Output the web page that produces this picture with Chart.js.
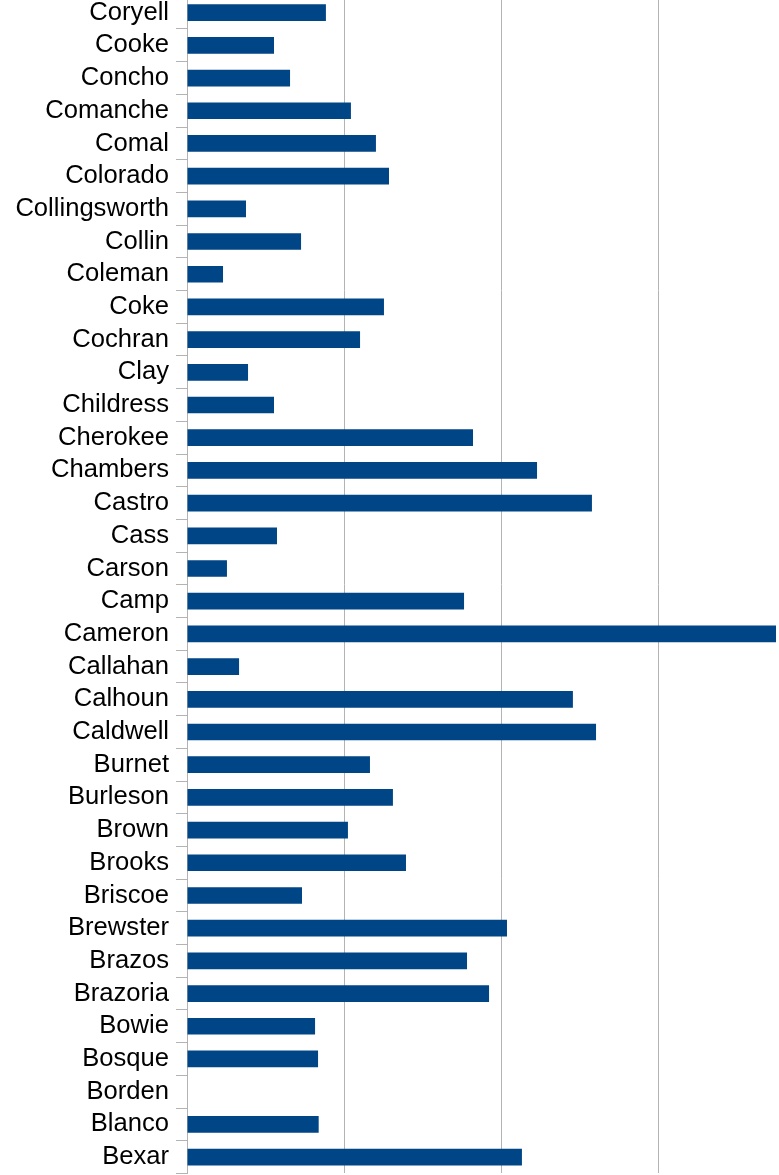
<!DOCTYPE html>
<html>
<head>
<meta charset="utf-8">
<script src="https://cdn.jsdelivr.net/npm/chart.js@4/dist/chart.umd.min.js"></script>
<style>
  html, body { margin: 0; padding: 0; background: #fff; }
  #wrap { position: relative; width: 779px; height: 1175px; overflow: hidden; background: #fff; }
  #box { position: absolute; left: 0; top: -20px; width: 779px; height: 1220px; }
</style>
</head>
<body>
<div id="wrap"><div id="box"><canvas id="c"></canvas></div></div>
<script>
const categories = ["Coryell","Cooke","Concho","Comanche","Comal","Colorado","Collingsworth","Collin","Coleman","Coke","Cochran","Clay","Childress","Cherokee","Chambers","Castro","Cass","Carson","Camp","Cameron","Callahan","Calhoun","Caldwell","Burnet","Burleson","Brown","Brooks","Briscoe","Brewster","Brazos","Brazoria","Bowie","Bosque","Borden","Blanco","Bexar"];
const values = [8.83,5.53,6.55,10.42,12.01,12.84,3.75,7.25,2.29,12.52,11.0,3.88,5.53,18.18,22.25,25.74,5.72,2.54,17.61,37.44,3.31,24.53,26.0,11.63,13.09,10.23,13.92,7.31,20.34,17.8,19.2,8.14,8.33,0,8.37,21.29];
const xMin = 0, xMax = 37.63, xStep = 10;

new Chart(document.getElementById('c'), {
  type: 'bar',
  data: {
    labels: categories,
    datasets: [{
      data: values,
      backgroundColor: '#004586',
      borderWidth: 0,
      barPercentage: 0.51,
      categoryPercentage: 1.0
    }]
  },
  options: {
    indexAxis: 'y',
    responsive: true,
    maintainAspectRatio: false,
    animation: false,
    layout: { padding: { top: 16.3, bottom: 26.6, left: 0, right: 0 } },
    plugins: { legend: { display: false }, tooltip: { enabled: false } },
    scales: {
      x: {
        min: xMin, max: xMax,
        ticks: { display: false, stepSize: xStep },
        afterBuildTicks: (s) => { s.ticks = s.ticks.filter(t => Math.abs(t.value % xStep) < 1e-9); },
        afterFit: (s) => { s.height = 0; },
        grid: { color: '#b3b3b3', lineWidth: 1, drawTicks: false },
        border: { display: false }
      },
      y: {
        afterFit: (s) => { s.width = 187; s.paddingTop = 0; s.paddingBottom = 0; },
        ticks: { color: '#000', font: { family: 'Liberation Sans', size: 25.6 }, padding: 7, autoSkip: false },
        grid: { drawOnChartArea: false, color: '#b3b3b3', tickLength: 11, offset: true },
        border: { display: true, color: '#b3b3b3', width: 1 }
      }
    }
  },
  plugins: [{
    id: 'debug',
    afterLayout(chart) { document.title = JSON.stringify(chart.chartArea); }
  }]
});
</script>
</body>
</html>
